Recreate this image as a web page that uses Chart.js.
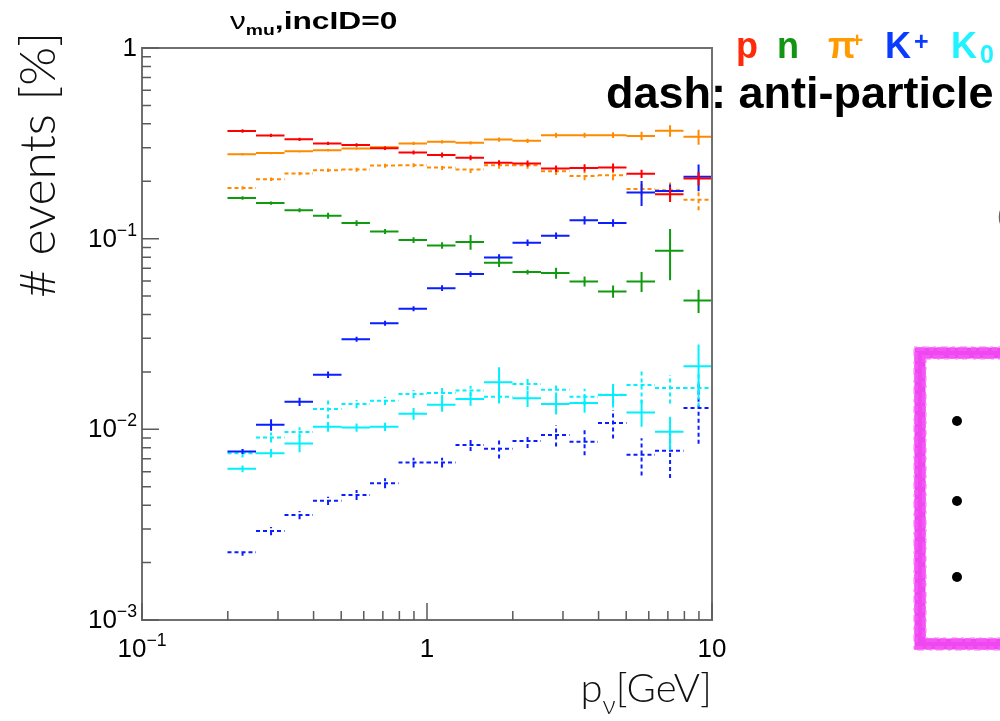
<!DOCTYPE html>
<html>
<head>
<meta charset="utf-8">
<script src="https://cdn.jsdelivr.net/npm/chart.js@4.4.0/dist/chart.umd.min.js"></script>
<style>
  html, body { margin: 0; padding: 0; background: #ffffff; }
  #c { display: block; }
</style>
</head>
<body>
<canvas id="c" width="1000" height="721"></canvas>
<script>
// Momentum bins (GeV), 0.1 decade wide from 0.2 to 10
const binEdges = [0.1995, 0.2512, 0.3162, 0.3981, 0.5012, 0.6310, 0.7943, 1.0,
                  1.2589, 1.5849, 1.9953, 2.5119, 3.1623, 3.9811, 5.0119, 6.3096, 7.9433, 10.0];

// Fraction of events per bin [%] and relative statistical errors
const proton      = [0.367, 0.348, 0.332, 0.316, 0.310, 0.298, 0.283, 0.275, 0.266, 0.250, 0.248, 0.233, 0.235, 0.236, 0.219, 0.171, 0.207];
const protonErr   = [0.02, 0.02, 0.02, 0.02, 0.02, 0.022, 0.025, 0.03, 0.03, 0.03, 0.035, 0.04, 0.045, 0.05, 0.05, 0.09, 0.08];

const neutron     = [0.1635, 0.1538, 0.141, 0.132, 0.1208, 0.1092, 0.0984, 0.0922, 0.0960, 0.0748, 0.0668, 0.0660, 0.0597, 0.0529, 0.0597, 0.0865, 0.0474];
const neutronErr  = [0.02, 0.02, 0.025, 0.035, 0.035, 0.03, 0.035, 0.04, 0.09, 0.05, 0.03, 0.065, 0.06, 0.075, 0.12, 0.3, 0.14];

const piPlus      = [0.277, 0.281, 0.287, 0.291, 0.297, 0.302, 0.316, 0.322, 0.318, 0.331, 0.326, 0.349, 0.349, 0.349, 0.346, 0.368, 0.342];
const piPlusErr   = [0.015, 0.015, 0.015, 0.015, 0.015, 0.015, 0.02, 0.02, 0.02, 0.025, 0.025, 0.03, 0.03, 0.035, 0.05, 0.07, 0.09];

const piMinus     = [0.1845, 0.205, 0.2196, 0.2285, 0.2304, 0.2416, 0.2427, 0.236, 0.2304, 0.2427, 0.2427, 0.2258, 0.2133, 0.2153, 0.1823, 0.1794, 0.160];
const piMinusErr  = [0.02, 0.02, 0.02, 0.02, 0.025, 0.025, 0.025, 0.03, 0.04, 0.04, 0.04, 0.045, 0.05, 0.06, 0.07, 0.1, 0.12];

const kPlus       = [0.00766, 0.01057, 0.01396, 0.01936, 0.0297, 0.0360, 0.0429, 0.0550, 0.0652, 0.0797, 0.0953, 0.1037, 0.1248, 0.1208, 0.1744, 0.178, 0.211];
const kPlusErr    = [0.03, 0.07, 0.05, 0.04, 0.03, 0.03, 0.03, 0.035, 0.035, 0.04, 0.04, 0.04, 0.05, 0.045, 0.15, 0.08, 0.16];

const kMinus      = [0.002265, 0.00293, 0.00355, 0.00422, 0.00453, 0.00522, 0.0067, 0.0067, 0.00827, 0.0079, 0.00868, 0.00933, 0.0086, 0.0108, 0.00735, 0.00772, 0.01294];
const kMinusErr   = [0.04, 0.05, 0.05, 0.05, 0.06, 0.06, 0.06, 0.06, 0.07, 0.11, 0.08, 0.13, 0.15, 0.17, 0.22, 0.28, 0.35];

const kZero       = [0.00621, 0.0075, 0.00843, 0.01032, 0.01023, 0.01032, 0.01208, 0.01346, 0.01443, 0.01764, 0.01454, 0.01358, 0.01374, 0.01515, 0.01227, 0.0097, 0.0214];
const kZeroErr    = [0.04, 0.05, 0.1, 0.06, 0.05, 0.05, 0.07, 0.08, 0.08, 0.2, 0.1, 0.12, 0.11, 0.14, 0.16, 0.2, 0.3];

const kZeroBar    = [0.0075, 0.00907, 0.00968, 0.01279, 0.01358, 0.01413, 0.01532, 0.01552, 0.01596, 0.01484, 0.0173, 0.01615, 0.01484, 0.0152, 0.0171, 0.01648, 0.01648];
const kZeroBarErr = [0.05, 0.06, 0.06, 0.11, 0.05, 0.05, 0.05, 0.07, 0.06, 0.08, 0.07, 0.08, 0.1, 0.1, 0.2, 0.17, 0.2];

// Axis ticks and labels
const xMajorTicks = [0.1, 1, 10];
const xTickLabels = [['10', '\u22121'], ['1', ''], ['10', '']];
const yMajorTicks = [0.001, 0.01, 0.1, 1];
const yTickLabels = [['10', '\u22123'], ['10', '\u22122'], ['10', '\u22121'], ['1', '']];

const COL = {
  p: '#ff0000', n: '#109a10', pi: '#ff8a00', kp: '#0a1eff', k0: '#00f0ff'
};

// Histogram steps plus vertical error bars, each piece separated by a gap
function histPoints(vals, errs) {
  const pts = [];
  vals.forEach((v, i) => {
    const lo = binEdges[i], hi = binEdges[i + 1], c = 0.5 * (lo + hi);
    pts.push({ x: lo, y: v }, { x: hi, y: v }, { x: hi, y: null });
    pts.push({ x: c, y: v * (1 - errs[i]) }, { x: c, y: v * (1 + errs[i]) }, { x: c, y: null });
  });
  return pts;
}

function histSet(label, vals, errs, color, dashed, order) {
  return {
    label,
    data: histPoints(vals, errs),
    borderColor: color,
    borderWidth: 2,
    borderDash: dashed ? [4, 3] : [],
    pointRadius: 0,
    spanGaps: false,
    fill: false,
    tension: 0,
    order
  };
}

const FONT = '"Liberation Sans", Arial, Helvetica, sans-serif';
const LIGHT = 'Lato, Roboto, "Open Sans", sans-serif';

function drawPower(ctx, base, exp, x, y, align, size) {
  ctx.font = size + 'px ' + FONT;
  const wb = ctx.measureText(base).width;
  const es = size * 0.68;
  ctx.font = es + 'px ' + FONT;
  const we = exp ? ctx.measureText(exp).width : 0;
  const total = wb + we;
  const x0 = align === 'right' ? x - total : (align === 'center' ? x - total / 2 : x);
  ctx.textAlign = 'left';
  ctx.textBaseline = 'alphabetic';
  ctx.font = size + 'px ' + FONT;
  ctx.fillText(base, x0, y);
  if (exp) {
    ctx.font = es + 'px ' + FONT;
    ctx.fillText(exp, x0 + wb, y - size * 0.42);
  }
}

// Ragged marker stroke: a few overlapping passes with small fixed offsets
function markerRect(ctx, x, y, w, h) {
  const passes = [
    { d: 0, lw: 11, col: '#f048f0', dash: [] },
    { d: -4, lw: 4, col: 'rgba(248, 90, 248, 0.75)', dash: [9, 4, 5, 3] },
    { d: 4, lw: 4, col: 'rgba(248, 90, 248, 0.75)', dash: [6, 3, 11, 5] },
    { d: -6, lw: 2, col: 'rgba(250, 120, 250, 0.5)', dash: [3, 5, 7, 4] },
    { d: 6, lw: 2, col: 'rgba(250, 120, 250, 0.5)', dash: [5, 6, 3, 4] }
  ];
  passes.forEach(p => {
    ctx.strokeStyle = p.col;
    ctx.lineWidth = p.lw;
    ctx.setLineDash(p.dash);
    ctx.strokeRect(x + p.d, y + p.d, w - 2 * p.d, h - 2 * p.d);
  });
  ctx.setLineDash([]);
}

const decor = {
  id: 'decor',
  afterDraw(chart) {
    const ctx = chart.ctx, xs = chart.scales.x, ys = chart.scales.y, a = chart.chartArea;
    ctx.save();

    // frame
    ctx.strokeStyle = '#707070';
    ctx.lineWidth = 2;
    ctx.strokeRect(a.left, a.top, a.right - a.left, a.bottom - a.top);

    // inward ticks on the bottom and left axes
    ctx.lineWidth = 1.5;
    ctx.strokeStyle = '#5a5a5a';
    ctx.beginPath();
    xMajorTicks.forEach((d, i) => {
      const px = xs.getPixelForValue(d);
      ctx.moveTo(px, a.bottom); ctx.lineTo(px, a.bottom - 17);
      if (i < xMajorTicks.length - 1) {
        for (let m = 2; m <= 9; m++) {
          const q = xs.getPixelForValue(d * m);
          ctx.moveTo(q, a.bottom); ctx.lineTo(q, a.bottom - 9);
        }
      }
    });
    yMajorTicks.forEach((d, i) => {
      const py = ys.getPixelForValue(d);
      ctx.moveTo(a.left, py); ctx.lineTo(a.left + 17, py);
      if (i < yMajorTicks.length - 1) {
        for (let m = 2; m <= 9; m++) {
          const q = ys.getPixelForValue(d * m);
          ctx.moveTo(a.left, q); ctx.lineTo(a.left + 9, q);
        }
      }
    });
    ctx.stroke();

    // tick labels
    ctx.fillStyle = '#000';
    xMajorTicks.forEach((d, i) => {
      const [b, e] = xTickLabels[i];
      drawPower(ctx, b, e, xs.getPixelForValue(d), a.bottom + 37, 'center', 26);
    });
    yMajorTicks.forEach((d, i) => {
      const [b, e] = yTickLabels[i];
      drawPower(ctx, b, e, a.left - 5, ys.getPixelForValue(d) + 8, 'right', 26);
    });

    // histogram title
    ctx.save();
    ctx.translate(230, 29);
    ctx.scale(1.38, 1);
    ctx.textAlign = 'left';
    ctx.textBaseline = 'alphabetic';
    ctx.font = '23px ' + FONT;
    ctx.fillText('\u03bd', 0, 0);
    let w = ctx.measureText('\u03bd').width;
    ctx.font = 'bold 14px ' + FONT;
    ctx.fillText('mu', w, 6);
    w += ctx.measureText('mu').width;
    ctx.font = 'bold 23px ' + FONT;
    ctx.fillText(',incID=0', w, 0);
    ctx.restore();

    // y-axis title
    ctx.save();
    ctx.font = '300 48px ' + LIGHT;
    const yt = '# events [%]';
    const ytSize = 48 * 266 / ctx.measureText(yt).width;
    ctx.font = '300 ' + ytSize + 'px ' + LIGHT;
    ctx.translate(18 + 0.74 * ytSize, 165);
    ctx.rotate(-Math.PI / 2);
    ctx.textAlign = 'center';
    ctx.textBaseline = 'alphabetic';
    ctx.fillStyle = '#111';
    ctx.fillText(yt, 0, 0);
    ctx.restore();

    // x-axis title
    ctx.save();
    ctx.fillStyle = '#111';
    ctx.textAlign = 'left';
    ctx.textBaseline = 'alphabetic';
    const xs1 = 40, xs2 = 26;
    ctx.font = '300 ' + xs1 + 'px ' + LIGHT;
    const wp = ctx.measureText('p').width;
    const wg = ctx.measureText('[GeV]').width;
    ctx.font = '300 ' + xs2 + 'px ' + LIGHT;
    const wn = ctx.measureText('\u03bd').width;
    const x0 = 712 - (wp + wn + wg);
    ctx.font = '300 ' + xs1 + 'px ' + LIGHT;
    ctx.fillText('p', x0, 702);
    ctx.font = '300 ' + xs2 + 'px ' + LIGHT;
    ctx.fillText('\u03bd', x0 + wp, 714);
    ctx.font = '300 ' + xs1 + 'px ' + LIGHT;
    ctx.fillText('[GeV]', x0 + wp + wn, 702);
    ctx.restore();

    // particle colour key
    ctx.save();
    ctx.textAlign = 'left';
    ctx.textBaseline = 'alphabetic';
    ctx.font = 'bold 36px ' + FONT;
    ctx.fillStyle = '#ff2a0a'; ctx.fillText('p', 736, 58);
    ctx.fillStyle = '#129512'; ctx.fillText('n', 777, 58);
    ctx.fillStyle = '#ff9a00'; ctx.fillText('\u03c0', 828, 58);
    ctx.font = 'bold 21px ' + FONT; ctx.fillText('+', 851, 47);
    ctx.font = 'bold 36px ' + FONT;
    ctx.fillStyle = '#0a3cff'; ctx.fillText('K', 885, 58);
    ctx.font = 'bold 25px ' + FONT; ctx.fillText('+', 914, 50);
    ctx.font = 'bold 36px ' + FONT;
    ctx.fillStyle = '#1ff3ff'; ctx.fillText('K', 951, 58);
    ctx.font = 'bold 25px ' + FONT; ctx.fillText('0', 980, 63);
    ctx.fillStyle = '#000';
    ctx.font = 'bold 45px ' + FONT;
    ctx.fillText('dash: anti-particle', 606, 108);
    ctx.fillStyle = '#666';
    ctx.font = '28px ' + FONT;
    ctx.fillText('(', 997, 224);
    ctx.restore();

    // marker-drawn box with bullet points
    ctx.save();
    markerRect(ctx, 920, 353, 140, 291);
    ctx.fillStyle = '#000';
    [421, 501, 577].forEach(by => {
      ctx.beginPath(); ctx.arc(957, by, 5, 0, Math.PI * 2); ctx.fill();
    });
    ctx.restore();

    ctx.restore();
  }
};

new Chart(document.getElementById('c'), {
  type: 'line',
  data: {
    datasets: [
      histSet('p', proton, protonErr, COL.p, false, 0),
      histSet('\u03c0+', piPlus, piPlusErr, COL.pi, false, 1),
      histSet('n', neutron, neutronErr, COL.n, false, 2),
      histSet('K+', kPlus, kPlusErr, COL.kp, false, 3),
      histSet('K0', kZero, kZeroErr, COL.k0, false, 4),
      histSet('\u03c0\u2212', piMinus, piMinusErr, COL.pi, true, 5),
      histSet('anti-K0', kZeroBar, kZeroBarErr, COL.k0, true, 6),
      histSet('K\u2212', kMinus, kMinusErr, COL.kp, true, 7)
    ]
  },
  options: {
    responsive: false,
    animation: false,
    devicePixelRatio: 1,
    layout: { padding: { left: 0, right: 288, top: 48, bottom: 0 } },
    plugins: { legend: { display: false }, tooltip: { enabled: false }, title: { display: false } },
    elements: { point: { radius: 0 }, line: { tension: 0 } },
    scales: {
      x: {
        type: 'logarithmic', min: 0.1, max: 10,
        grid: { display: false }, border: { display: false }, ticks: { display: false },
        afterFit: s => { s.height = 101; }
      },
      y: {
        type: 'logarithmic', min: 0.001, max: 1,
        grid: { display: false }, border: { display: false }, ticks: { display: false },
        afterFit: s => { s.width = 142; }
      }
    }
  },
  plugins: [decor]
});
</script>
</body>
</html>
